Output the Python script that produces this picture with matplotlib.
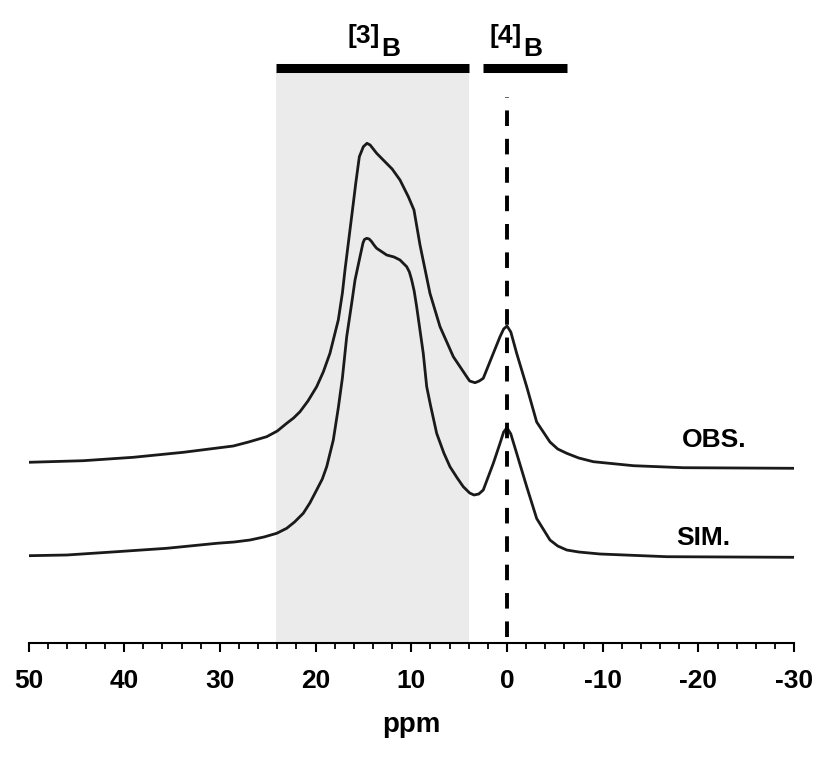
import matplotlib.pyplot as plt
from matplotlib.ticker import MultipleLocator

plt.rcParams['font.family'] = ['Liberation Sans', 'DejaVu Sans']
plt.rcParams['font.weight'] = 'bold'
plt.rcParams['axes.labelweight'] = 'bold'
plt.rcParams['axes.unicode_minus'] = False

# 11B MAS NMR spectrum, observed and simulated (ppm, intensity a.u.)
obs_ppm = [50.0, 44.27, 39.05, 33.82, 28.6, 27.0, 25.11, 24.0, 23.02, 22.3,
           21.63, 20.8, 19.89, 19.2, 18.5, 17.63, 17.2, 16.93, 16.5, 16.06,
           15.8, 15.43, 15.01, 14.63, 14.3, 13.62, 12.93, 12.0, 11.18, 10.31,
           9.72, 9.09, 8.05, 7.0, 5.61, 4.21, 3.9, 3.34, 2.9, 2.48,
           1.43, 0.73, 0.35, 0.0, -0.4, -1.01, -2.06, -3.10, -4.49, -5.3,
           -6.24, -7.5, -9.02, -13.2, -18.42, -30.0]
obs_int = [18.07, 18.23, 18.57, 19.07, 19.70, 20.1, 20.63, 21.2, 21.97, 22.5,
           23.13, 24.2, 25.63, 27.1, 28.97, 32.3, 35.0, 37.3, 40.6, 43.97,
           46.0, 48.63, 49.63, 49.97, 49.8, 48.97, 48.3, 47.4, 46.3, 44.63,
           43.3, 39.8, 34.97, 31.63, 28.63, 26.63, 26.2, 26.03, 26.2, 26.47,
           28.97, 30.63, 31.4, 31.7, 31.1, 28.97, 25.63, 22.1, 20.1, 19.4,
           18.97, 18.5, 18.13, 17.73, 17.53, 17.47]

sim_ppm = [50.0, 46.0, 40.78, 35.56, 30.33, 28.5, 26.85, 25.4, 24.06, 23.02,
           22.2, 21.29, 20.6, 19.89, 19.3, 18.84, 18.15, 17.63, 17.2, 16.75,
           16.23, 15.88, 15.36, 15.05, 14.9, 14.66, 14.4, 14.14, 13.9, 13.62,
           12.57, 11.8, 11.18, 10.48, 10.2, 9.96, 9.7, 9.44, 8.75, 8.39,
           8.0, 7.35, 6.6, 5.96, 5.2, 4.57, 3.9, 3.45, 2.95, 2.48,
           1.43, 0.73, 0.35, 0.0, -0.4, -1.01, -2.06, -3.10, -4.49, -5.3,
           -6.24, -7.5, -9.72, -16.69, -30.0]
sim_int = [8.73, 8.8, 9.13, 9.47, 9.97, 10.1, 10.3, 10.6, 10.97, 11.47,
           12.1, 12.97, 14.0, 15.3, 16.4, 17.63, 20.3, 23.5, 26.5, 30.63,
           33.97, 36.3, 38.63, 40.0, 40.35, 40.47, 40.4, 40.13, 39.8, 39.47,
           38.8, 38.6, 38.3, 37.63, 37.1, 36.3, 35.2, 33.63, 28.97, 25.63,
           23.8, 20.97, 19.0, 17.63, 16.5, 15.63, 15.0, 14.8, 14.9, 15.3,
           17.97, 19.97, 21.1, 21.53, 20.9, 18.97, 15.63, 12.45, 10.3, 9.7,
           9.3, 9.1, 8.9, 8.63, 8.57]

# chemical shift ranges of trigonal and tetrahedral boron
b3_range = (24.14, 3.97)
b4_range = (2.51, -6.27)

fig = plt.figure(figsize=(8.2, 7.57), dpi=100)
ax = fig.add_axes([28.5 / 820, 114 / 757, (794.1 - 28.5) / 820, 603 / 757])
ax.set_xlim(50, -30)
ax.set_ylim(0, 60.3)

ax.axvspan(b3_range[0], b3_range[1], ymin=0, ymax=57.1 / 60.3,
           color='#ebebeb', lw=0, zorder=0)

ax.plot(obs_ppm, obs_int, color='#1a1a1a', lw=2.0, zorder=2,
        solid_joinstyle='round')
ax.plot(sim_ppm, sim_int, color='#1a1a1a', lw=2.0, zorder=2,
        solid_joinstyle='round')

ax.plot([0, 0], [0.6, 54.6], color='black', lw=2.8, ls=(0, (4.0, 3.3)),
        dash_capstyle='butt', zorder=3)

for lo, hi in (b3_range, b4_range):
    ax.plot([lo, hi], [57.55, 57.55], color='black', lw=6.5,
            solid_capstyle='butt', clip_on=False)

# site labels: bracketed coordination number raised before B
for x0, label in ((16.7, '[3]'), (1.78, '[4]')):
    t = ax.text(x0, 60.0, label, fontsize=19, ha='left', va='baseline')
    ax.annotate('B', xy=(1, 0), xycoords=t, xytext=(1, -5.5),
                textcoords='offset points', fontsize=19,
                ha='left', va='baseline')

ax.text(-18.3, 19.6, 'OBS.', fontsize=19, ha='left', va='baseline')
ax.text(-17.7, 9.8, 'SIM.', fontsize=19, ha='left', va='baseline')

for side in ('left', 'right', 'top'):
    ax.spines[side].set_visible(False)
ax.spines['bottom'].set_linewidth(1.5)
ax.set_yticks([])

ax.xaxis.set_major_locator(MultipleLocator(10))
ax.xaxis.set_minor_locator(MultipleLocator(2))
ax.tick_params(axis='x', which='major', length=6.5, width=1.5, pad=12,
               labelsize=19)
ax.tick_params(axis='x', which='minor', length=4, width=1.3)
ax.set_xlabel('ppm', fontsize=20, labelpad=14)

fig.savefig('out.png', dpi=100)
